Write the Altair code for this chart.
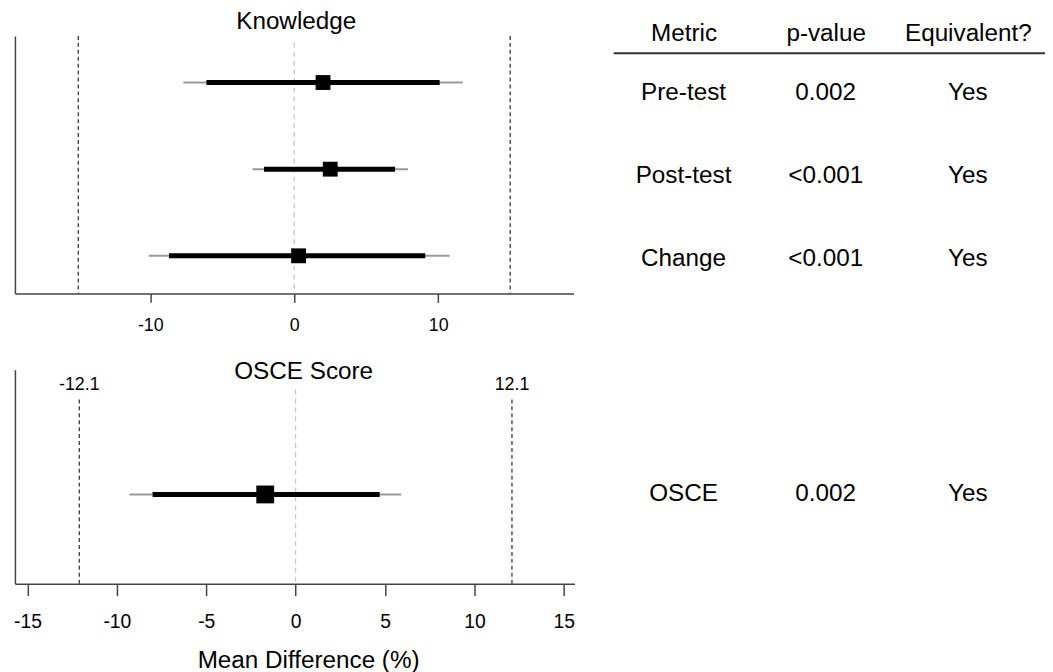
import altair as alt
import pandas as pd

FONT = "Liberation Sans"

# ---- data ----
knowledge_metrics = ["Pre-test", "Post-test", "Change"]
knowledge_est = [2.0, 2.5, 0.3]
knowledge_lo90 = [-6.1, -2.1, -8.7]
knowledge_hi90 = [10.1, 7.0, 9.1]
knowledge_lo95 = [-7.7, -2.9, -10.1]
knowledge_hi95 = [11.7, 7.9, 10.8]
knowledge_bounds = [-15, 15]

osce_metrics = ["OSCE"]
osce_est = [-1.7]
osce_lo90 = [-8.0]
osce_hi90 = [4.7]
osce_lo95 = [-9.3]
osce_hi95 = [5.9]
osce_bounds = [-12.1, 12.1]

table_headers = ["Metric", "p-value", "Equivalent?"]
table_metrics = ["Pre-test", "Post-test", "Change", "OSCE"]
table_pvalues = ["0.002", "<0.001", "<0.001", "0.002"]
table_equivalent = ["Yes", "Yes", "Yes", "Yes"]

top_ticks = [-10, 0, 10]
bottom_ticks = [-15, -10, -5, 0, 5, 10, 15]

# ---- tables built from the lists ----
k_df = pd.DataFrame({"metric": knowledge_metrics, "est": knowledge_est,
                     "lo90": knowledge_lo90, "hi90": knowledge_hi90,
                     "lo95": knowledge_lo95, "hi95": knowledge_hi95})
o_df = pd.DataFrame({"metric": osce_metrics, "est": osce_est,
                     "lo90": osce_lo90, "hi90": osce_hi90,
                     "lo95": osce_lo95, "hi95": osce_hi95})
kb_df = pd.DataFrame({"bound": knowledge_bounds})
ob_df = pd.DataFrame({"bound": osce_bounds})
zero_df = pd.DataFrame({"ref": [0]})

rows = []
for m, p, e in zip(table_metrics, table_pvalues, table_equivalent):
    for col, txt in zip(table_headers, [m, p, e]):
        rows.append({"row": m, "col": col, "text": txt})
t_df = pd.DataFrame(rows)
tt_df = t_df[t_df["row"].isin(knowledge_metrics)]
tb_df = t_df[t_df["row"].isin(osce_metrics)]

TOP_W, TOP_H = 564, 260
BOT_W, BOT_H = 565, 216
TAB_W = 436

AX = "#444444"
BIG = 24.5

# ---------------- top forest panel ----------------
kx = alt.Scale(domain=[-19.4, 19.4], nice=False, zero=False)
ky = alt.Scale(type="point", domain=knowledge_metrics, padding=0.486, align=0.553)
top_xaxis = alt.Axis(values=top_ticks, title=None, grid=False, tickSize=9,
                     labelPadding=14, labelFontSize=18, labelColor="black",
                     domainColor=AX, tickColor=AX, domainWidth=1.5, tickWidth=1.5,
                     labelExpr="'' + datum.value")
yaxis = alt.Axis(title=None, labels=False, ticks=False, grid=False,
                 domainColor=AX, domainWidth=1.5)

kb = alt.Chart(kb_df).mark_rule(color="#3a3a3a", strokeWidth=1.3, strokeDash=[4, 3]).encode(
    x=alt.X("bound:Q", scale=kx, axis=top_xaxis))
kz = alt.Chart(zero_df).mark_rule(color="#c4c4c4", strokeWidth=1.2, strokeDash=[5, 4]).encode(
    x=alt.X("ref:Q", scale=kx), y=alt.value(7), y2=alt.value(TOP_H))
k95 = alt.Chart(k_df).mark_rule(color="#9a9a9a", strokeWidth=2).encode(
    x=alt.X("lo95:Q", scale=kx), x2="hi95:Q",
    y=alt.Y("metric:N", scale=ky, axis=yaxis))
k90 = alt.Chart(k_df).mark_rule(color="black", strokeWidth=5).encode(
    x=alt.X("lo90:Q", scale=kx), x2="hi90:Q",
    y=alt.Y("metric:N", scale=ky))
ksq = alt.Chart(k_df).mark_square(size=225, color="black", opacity=1, filled=True).encode(
    x=alt.X("est:Q", scale=kx), y=alt.Y("metric:N", scale=ky))

top = alt.layer(kb, kz, k95, k90, ksq).properties(
    width=TOP_W, height=TOP_H,
    title=alt.TitleParams("Knowledge", baseline="alphabetic", offset=-18, dx=2, frame="group"))

# ---------------- bottom forest panel ----------------
ox = alt.Scale(domain=[-15.7, 15.6], nice=False, zero=False)
oy = alt.Scale(type="point", domain=osce_metrics, padding=0.5, align=0.583)
bot_xaxis = alt.Axis(values=bottom_ticks, title="Mean Difference (%)", grid=False,
                     tickSize=12, labelPadding=17, labelFontSize=19.5, labelColor="black",
                     domainColor=AX, tickColor=AX, domainWidth=1.5, tickWidth=1.5,
                     titleFontSize=BIG, titleFontWeight="normal", titleColor="black",
                     titlePadding=18, titleX=296, labelExpr="'' + datum.value")

ob = alt.Chart(ob_df).mark_rule(color="#3a3a3a", strokeWidth=1.3, strokeDash=[4, 3]).encode(
    x=alt.X("bound:Q", scale=ox, axis=bot_xaxis), y=alt.value(30), y2=alt.value(BOT_H))
obt = alt.Chart(ob_df).transform_calculate(lab="'' + datum.bound").mark_text(
    font=FONT, fontSize=18, color="black", baseline="middle").encode(
    x=alt.X("bound:Q", scale=ox), y=alt.value(15), text="lab:N")
oz = alt.Chart(zero_df).mark_rule(color="#c4c4c4", strokeWidth=1.2, strokeDash=[5, 4]).encode(
    x=alt.X("ref:Q", scale=ox), y=alt.value(20), y2=alt.value(BOT_H))
o95 = alt.Chart(o_df).mark_rule(color="#9a9a9a", strokeWidth=2).encode(
    x=alt.X("lo95:Q", scale=ox), x2="hi95:Q",
    y=alt.Y("metric:N", scale=oy, axis=yaxis))
o90 = alt.Chart(o_df).mark_rule(color="black", strokeWidth=5).encode(
    x=alt.X("lo90:Q", scale=ox), x2="hi90:Q",
    y=alt.Y("metric:N", scale=oy))
osq = alt.Chart(o_df).mark_square(size=324, color="black", opacity=1, filled=True).encode(
    x=alt.X("est:Q", scale=ox), y=alt.Y("metric:N", scale=oy))

bottom = alt.layer(ob, obt, oz, o95, o90, osq).properties(
    width=BOT_W, height=BOT_H,
    title=alt.TitleParams("OSCE Score", baseline="alphabetic", offset=-34, dx=9, frame="group"))

# ---------------- table panels ----------------
tx = alt.Scale(type="point", domain=table_headers, padding=0.519, align=0.477)
tty = alt.Scale(type="point", domain=knowledge_metrics, padding=0.548, align=0.627)
head_axis = alt.Axis(orient="top", title=None, ticks=False, grid=False, labelAngle=0,
                     labelFontSize=BIG, labelColor="black", labelPadding=7, offset=-17,
                     domainColor="#333333", domainWidth=2)

top_table = alt.Chart(tt_df).mark_text(font=FONT, fontSize=BIG, color="black",
                                       baseline="middle", align="center").encode(
    x=alt.X("col:N", scale=tx, axis=head_axis, sort=table_headers),
    y=alt.Y("row:N", scale=tty, axis=None),
    text="text:N").properties(width=TAB_W, height=TOP_H)

bottom_table = alt.Chart(tb_df).mark_text(font=FONT, fontSize=BIG, color="black",
                                          baseline="middle", align="center").encode(
    x=alt.X("col:N", scale=tx, axis=None, sort=table_headers),
    y=alt.Y("row:N", scale=oy, axis=None),
    text="text:N").properties(width=TAB_W, height=BOT_H)

chart = alt.concat(top, top_table, bottom, bottom_table, columns=2,
                   spacing={"row": 77, "column": 39}, bounds="flush").properties(
    padding={"left": 5, "top": -3, "right": 0, "bottom": 0}
).configure_view(stroke=None).configure_axis(
    labelFont=FONT, titleFont=FONT
).configure_title(
    font=FONT, fontSize=BIG, fontWeight="normal", color="black", anchor="middle"
)

chart.save("out.html", embed_options={"renderer": "svg", "actions": False})
